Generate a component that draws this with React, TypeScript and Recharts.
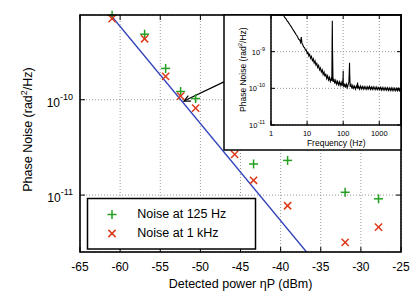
import React from 'react';
import {
  ComposedChart,
  Scatter,
  XAxis,
  YAxis,
  CartesianGrid,
  ReferenceLine,
} from 'recharts';

const FONT = '"Liberation Sans", Arial, Helvetica, sans-serif';

// main plot: phase noise vs detected power
const power125 = [-61.0, -56.95, -54.33, -52.46, -50.59, -43.37, -39.13, -31.96, -27.8];
const noise125 = [7.7e-10, 4.87e-10, 2.13e-10, 1.22e-10, 1.03e-10, 2.12e-11, 2.31e-11, 1.07e-11, 9.14e-12];
const power1k = [-61.0, -56.95, -54.33, -52.46, -50.59, -45.73, -43.37, -39.13, -31.96, -27.8];
const noise1k = [7.08e-10, 4.36e-10, 1.76e-10, 1.09e-10, 8.18e-11, 2.67e-11, 1.43e-11, 7.73e-12, 3.19e-12, 4.61e-12];
// shot noise limit (drawn over its visible extent)
const fitPower = [-61.18, -36.77];
const fitNoise = [7.74e-10, 2.53e-12];
const powerTicks = [-65, -60, -55, -50, -45, -40, -35, -30, -25];
const noiseTicks = [1e-11, 1e-10];
const noiseTickLabels = ['-11', '-10'];
const arrowFrom = { x: -47.07, y: 1.54e-10 };
const arrowTo = { x: -52.05, y: 9.69e-11 };

// inset: phase noise spectrum
const freq = [
  2.2, 2.4, 2.6, 2.8, 3.0, 3.3, 3.6, 3.9, 4.2, 4.6, 5.0, 5.4, 5.8, 6.2, 6.6, 6.9, 7.2, 7.6, 8.0, 8.5,
  9.0, 9.5, 10, 10.6, 11.2, 11.8, 12.5, 13.2, 14.0, 14.8, 15.7, 16.6, 17.6, 18.6, 19.7, 20.9, 22.1,
  23.4, 24.8, 26.3, 27.8, 29.5, 31.2, 33.0, 35.0, 37.1, 39.3, 41.6, 44.0, 46.6, 48.5, 49.5, 50.0,
  50.5, 52.3, 55.4, 58.7, 62.2, 65.9, 69.8, 73.9, 78.3, 82.9, 87.8, 93.0, 97.5, 99.5, 100, 100.5,
  104, 110, 116, 123, 130, 137, 144, 148, 150, 152, 156, 165, 175, 185, 196, 207, 220, 233, 244,
  250, 256, 270, 286, 303, 321, 340, 360, 381, 404, 428, 453, 480, 508, 538, 570, 604, 640, 678,
  718, 760, 805, 853, 903, 957, 1014, 1074, 1137, 1205, 1276, 1352, 1432, 1517, 1607, 1702, 1803,
  1910, 2023, 2143, 2270, 2405, 2547, 2698, 2858, 3028, 3207, 3397, 3599, 3812, 4000,
];
const spectrum = [
  1.0e-8, 8.6e-9, 7.9e-9, 6.9e-9, 6.4e-9, 5.5e-9, 4.9e-9, 4.3e-9, 3.8e-9, 3.3e-9, 2.9e-9, 2.6e-9,
  2.2e-9, 2.1e-9, 1.8e-9, 2.5e-9, 1.7e-9, 1.55e-9, 1.35e-9, 1.3e-9, 1.1e-9, 1.12e-9, 9.2e-10,
  9.6e-10, 7.6e-10, 8.4e-10, 6.6e-10, 7.4e-10, 5.7e-10, 6.4e-10, 4.9e-10, 5.6e-10, 4.3e-10, 4.8e-10,
  3.7e-10, 4.2e-10, 3.2e-10, 3.6e-10, 2.8e-10, 3.2e-10, 2.4e-10, 2.8e-10, 2.1e-10, 2.5e-10, 1.85e-10,
  2.2e-10, 1.7e-10, 2.0e-10, 1.55e-10, 1.85e-10, 1.6e-10, 2.5e-9, 7.0e-9, 1.5e-9, 1.5e-10, 1.8e-10,
  1.35e-10, 1.65e-10, 1.3e-10, 1.55e-10, 1.25e-10, 1.5e-10, 1.2e-10, 1.45e-10, 1.15e-10, 1.6e-10,
  2.0e-10, 3.0e-10, 1.4e-10, 1.1e-10, 1.35e-10, 1.05e-10, 1.3e-10, 1.05e-10, 1.25e-10, 1.5e-10,
  3.2e-10, 5.0e-10, 2.4e-10, 1.1e-10, 1.25e-10, 9.8e-11, 1.2e-10, 1.0e-10, 1.15e-10, 9.5e-11,
  1.15e-10, 1.05e-10, 1.45e-10, 1.0e-10, 1.12e-10, 9.5e-11, 1.15e-10, 9.7e-11, 1.12e-10, 9.5e-11,
  1.12e-10, 9.6e-11, 1.1e-10, 9.4e-11, 1.1e-10, 9.6e-11, 1.12e-10, 9.4e-11, 1.08e-10, 9.3e-11,
  1.1e-10, 9.4e-11, 1.07e-10, 9.2e-11, 1.08e-10, 9.3e-11, 1.05e-10, 9.2e-11, 1.06e-10, 9.0e-11,
  1.05e-10, 9.0e-11, 1.04e-10, 9.0e-11, 1.04e-10, 8.9e-11, 1.03e-10, 8.8e-11, 1.02e-10, 8.8e-11,
  1.03e-10, 8.7e-11, 1.02e-10, 8.7e-11, 1.0e-10, 8.6e-11, 1.0e-10, 8.6e-11, 9.9e-11, 8.6e-11,
  9.8e-11, 8.8e-11,
];
const freqTicks = [1, 10, 100, 1000];
const specTicks = [1e-11, 1e-10, 1e-9];
const specTickLabels = ['-11', '-10', '-9'];

const data125 = power125.map((x, i) => ({ x, y: noise125[i] }));
const data1k = power1k.map((x, i) => ({ x, y: noise1k[i] }));
const fitData = fitPower.map((x, i) => ({ x, y: fitNoise[i] }));
const specData = freq.map((f, i) => ({ x: f, y: spectrum[i] }));

const GREEN = '#22a022';
const RED = '#dd3a1a';
const BLUE = '#3344bb';

const PLOT_W = 321;
const PLOT_H = 237;
const INSET_W = 130;
const INSET_H = 110;

function Plus({ cx, cy }: any) {
  return (
    <g stroke={GREEN} strokeWidth={1.5}>
      <line x1={cx - 4.5} x2={cx + 4.5} y1={cy} y2={cy} />
      <line x1={cx} x2={cx} y1={cy - 4.5} y2={cy + 4.5} />
    </g>
  );
}

function Cross({ cx, cy }: any) {
  return (
    <g stroke={RED} strokeWidth={1.5}>
      <line x1={cx - 3.6} x2={cx + 3.6} y1={cy - 3.6} y2={cy + 3.6} />
      <line x1={cx - 3.6} x2={cx + 3.6} y1={cy + 3.6} y2={cy - 3.6} />
    </g>
  );
}

const NoDot = () => <g />;

function Arrow(p: any) {
  const { x1, y1, x2, y2 } = p;
  const a = Math.atan2(y2 - y1, x2 - x1);
  const L = 7;
  const w = 0.45;
  return (
    <g stroke="#000" strokeWidth={1.2} fill="none">
      <line x1={x1} y1={y1} x2={x2} y2={y2} />
      <polyline
        points={`${x2 - L * Math.cos(a - w)},${y2 - L * Math.sin(a - w)} ${x2},${y2} ${
          x2 - L * Math.cos(a + w)
        },${y2 - L * Math.sin(a + w)}`}
      />
    </g>
  );
}

function MainXTick({ x, y, payload }: any) {
  return (
    <g>
      <line x1={x} x2={x} y1={y} y2={y - 5} stroke="#000" />
      <line x1={x} x2={x} y1={y - PLOT_H} y2={y - PLOT_H + 5} stroke="#000" />
      <text x={x} y={y + 18.7} textAnchor="middle" fontSize={12} fontFamily={FONT} fill="#000">
        {payload.value}
      </text>
    </g>
  );
}

function MainYTick({ x, y, index }: any) {
  return (
    <g>
      <line x1={x} x2={x + 5} y1={y} y2={y} stroke="#000" />
      <line x1={x + PLOT_W} x2={x + PLOT_W - 5} y1={y} y2={y} stroke="#000" />
      <text x={x - 7} y={y + 7} textAnchor="end" fontSize={12} fontFamily={FONT} fill="#000">
        10
        <tspan dy={-7} fontSize={9}>
          {noiseTickLabels[index]}
        </tspan>
      </text>
    </g>
  );
}

function InsetXTick({ x, y, payload }: any) {
  return (
    <g>
      <line x1={x} x2={x} y1={y} y2={y - 4} stroke="#000" />
      <line x1={x} x2={x} y1={y - INSET_H} y2={y - INSET_H + 4} stroke="#000" />
      <text x={x} y={y + 10.7} textAnchor="middle" fontSize={7.5} fontFamily={FONT} fill="#000">
        {payload.value}
      </text>
    </g>
  );
}

function InsetYTick({ x, y, index }: any) {
  return (
    <g>
      <line x1={x} x2={x + 4} y1={y} y2={y} stroke="#000" />
      <line x1={x + INSET_W} x2={x + INSET_W - 4} y1={y} y2={y} stroke="#000" />
      <text x={x - 6} y={y + 3} textAnchor="end" fontSize={7.5} fontFamily={FONT} fill="#000">
        10
        <tspan dy={-4} fontSize={5.5}>
          {specTickLabels[index]}
        </tspan>
      </text>
    </g>
  );
}

export default function App() {
  return (
    <div
      style={{
        position: 'fixed',
        left: 0,
        top: 0,
        width: 415,
        height: 291,
        background: '#fff',
        fontFamily: FONT,
      }}
    >
      <ComposedChart width={415} height={291} margin={{ top: 15, right: 14, bottom: 0, left: 0 }}>
        <CartesianGrid stroke="#999" strokeDasharray="1 2" />
        <XAxis
          type="number"
          dataKey="x"
          domain={[-65, -25]}
          ticks={powerTicks}
          height={39}
          axisLine={false}
          tickLine={false}
          tickSize={0}
          tickMargin={0}
          tick={<MainXTick />}
          interval={0}
        />
        <YAxis
          type="number"
          dataKey="y"
          scale="log"
          domain={[2.53e-12, 7.74e-10]}
          ticks={noiseTicks}
          width={80}
          axisLine={false}
          tickLine={false}
          tickSize={0}
          tickMargin={0}
          tick={<MainYTick />}
          interval={0}
        />
        <Scatter data={fitData} line={{ stroke: BLUE, strokeWidth: 1.3 }} shape={NoDot} isAnimationActive={false} />
        <ReferenceLine segment={[arrowFrom, arrowTo]} shape={Arrow} />
        <Scatter data={data125} shape={Plus} isAnimationActive={false} />
        <Scatter data={data1k} shape={Cross} isAnimationActive={false} />
      </ComposedChart>

      <svg
        width={415}
        height={291}
        style={{ position: 'absolute', left: 0, top: 0, pointerEvents: 'none' }}
        fontFamily={FONT}
      >
        <rect x={80} y={15} width={PLOT_W} height={PLOT_H} fill="none" stroke="#000" strokeWidth={1.6} />
        <text x={240.5} y={288.3} textAnchor="middle" fontSize={12.5}>
          Detected power ηP (dBm)
        </text>
        <text transform="translate(31.5,129.5) rotate(-90)" textAnchor="middle" fontSize={12.5}>
          Phase Noise (rad
          <tspan dy={-5} fontSize={9}>
            2
          </tspan>
          <tspan dy={5}>/Hz)</tspan>
        </text>
        <rect x={87.5} y={198.5} width={168} height={50.5} fill="#fff" stroke="#000" strokeWidth={1.5} />
        <Plus cx={112} cy={214.5} />
        <Cross cx={112} cy={233.5} />
        <text x={137.3} y={217.6} fontSize={12.5}>
          Noise at 125 Hz
        </text>
        <text x={137.3} y={236.8} fontSize={12.5}>
          Noise at 1 kHz
        </text>
      </svg>

      <div
        style={{
          position: 'absolute',
          left: 224,
          top: 15,
          width: 177,
          height: 135,
          background: '#fff',
        }}
      >
        <ComposedChart width={177} height={135} margin={{ top: 0, right: 0, bottom: 0, left: 0 }}>
          <CartesianGrid stroke="#999" strokeDasharray="1 2" />
          <XAxis
            type="number"
            dataKey="x"
            scale="log"
            domain={[1, 4000]}
            ticks={freqTicks}
            allowDataOverflow
            height={25}
            axisLine={false}
            tickLine={false}
            tickSize={0}
            tickMargin={0}
            tick={<InsetXTick />}
            interval={0}
          />
          <YAxis
            type="number"
            dataKey="y"
            scale="log"
            domain={[1e-11, 1e-8]}
            ticks={specTicks}
            allowDataOverflow
            width={47}
            axisLine={false}
            tickLine={false}
            tickSize={0}
            tickMargin={0}
            tick={<InsetYTick />}
            interval={0}
          />
          <Scatter data={specData} line={{ stroke: '#000', strokeWidth: 1.1 }} shape={NoDot} isAnimationActive={false} />
        </ComposedChart>
      </div>

      <svg
        width={415}
        height={291}
        style={{ position: 'absolute', left: 0, top: 0, pointerEvents: 'none' }}
        fontFamily={FONT}
      >
        <rect x={224} y={15} width={177} height={135} fill="none" stroke="#000" strokeWidth={1.5} />
        <rect x={271} y={15} width={INSET_W} height={INSET_H} fill="none" stroke="#000" strokeWidth={1.5} />
        <text x={336.2} y={145.5} textAnchor="middle" fontSize={8.5}>
          Frequency (Hz)
        </text>
        <text transform="translate(245.5,69.7) rotate(-90)" textAnchor="middle" fontSize={8.5}>
          Phase Noise (rad
          <tspan dy={-3.5} fontSize={6}>
            2
          </tspan>
          <tspan dy={3.5}>/Hz)</tspan>
        </text>
      </svg>
    </div>
  );
}
